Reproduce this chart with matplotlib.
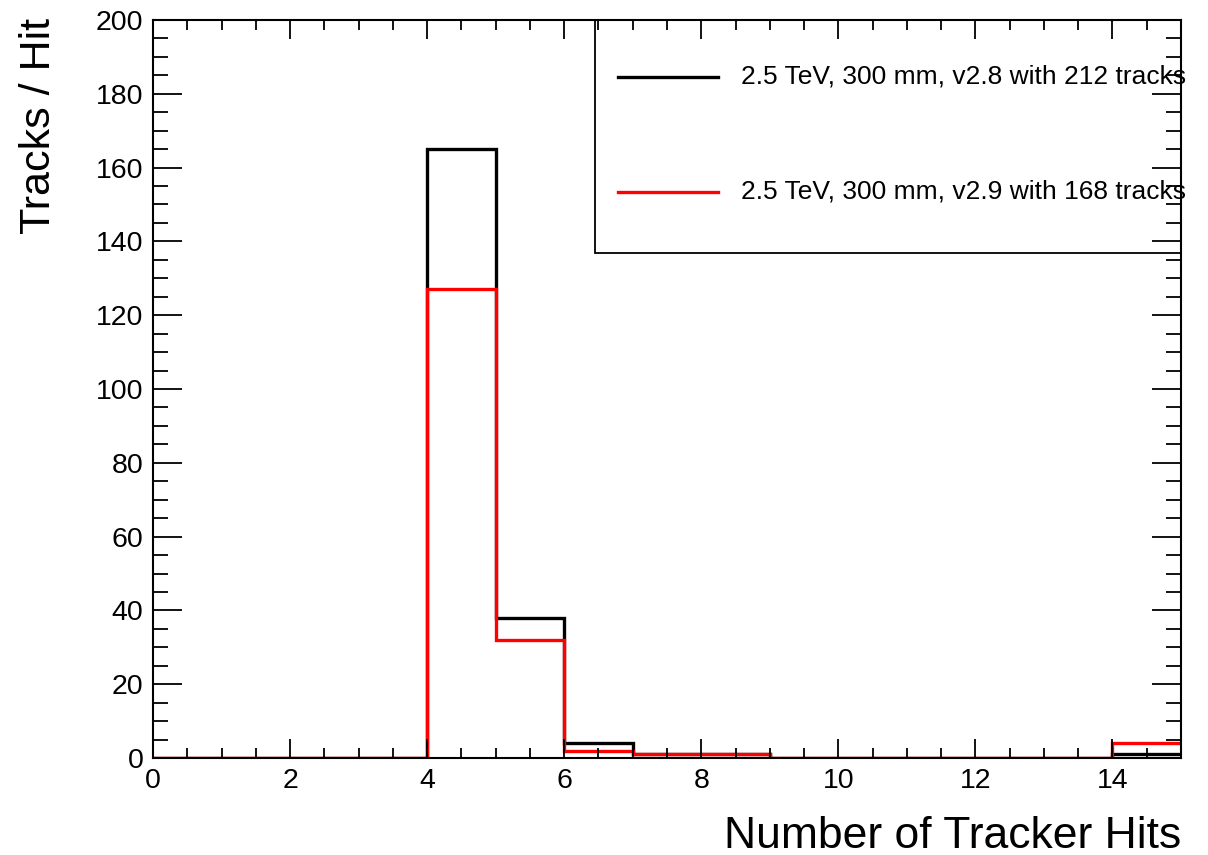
import numpy as np
import matplotlib
matplotlib.use("Agg")
import matplotlib.pyplot as plt
from matplotlib.patches import Rectangle
from matplotlib.lines import Line2D

plt.rcParams['font.family'] = ['Liberation Sans', 'DejaVu Sans']

# histogram data (bin edges 0..15, one bin per hit count)
bin_edges = np.arange(0, 16)
counts_v28 = [0, 0, 0, 0, 165, 38, 4, 1, 1, 0, 0, 0, 0, 0, 1]
counts_v29 = [0, 0, 0, 0, 127, 32, 2, 1, 1, 0, 0, 0, 0, 0, 4]
label_v28 = "2.5 TeV, 300 mm, v2.8 with 212 tracks"
label_v29 = "2.5 TeV, 300 mm, v2.9 with 168 tracks"

fig = plt.figure(figsize=(12.08, 8.55), dpi=100)
ax = fig.add_axes([153/1208, 97/855, 1028/1208, 738/855])

ax.stairs(counts_v28, bin_edges, color='black', lw=2.4, baseline=None)
ax.stairs(counts_v29, bin_edges, color='#ff0000', lw=2.4, baseline=None)

ax.set_xlim(0, 15)
ax.set_ylim(0, 200)
ax.set_xticks(np.arange(0, 16, 2))
ax.set_xticks(np.arange(0, 15.01, 0.5), minor=True)
ax.set_yticks(np.arange(0, 201, 20))
ax.set_yticks(np.arange(0, 201, 5), minor=True)

for s in ax.spines.values():
    s.set_linewidth(1.5)

ax.tick_params(axis='both', which='both', direction='in', top=True, right=True,
               labelsize=20.5, width=1.3)
ax.tick_params(axis='x', which='major', length=14, pad=7)
ax.tick_params(axis='x', which='minor', length=7)
ax.tick_params(axis='y', which='major', length=21, pad=7)
ax.tick_params(axis='y', which='minor', length=10.5)

ax.set_xlabel("Number of Tracker Hits", fontsize=32, loc='right')
ax.xaxis.set_label_coords(1.0, -0.078)
ax.set_ylabel("Tracks / Hit", fontsize=31, loc='top')
ax.yaxis.set_label_coords(-0.091, 1.003)

# legend box drawn by hand, ROOT style (text runs past the frame)
ax.add_patch(Rectangle((0.43, 0.684), 0.57, 0.316, transform=ax.transAxes,
                       fill=False, lw=1.3, ec='black', clip_on=False, zorder=5))
rows = [(0.923, 'black', label_v28), (0.767, '#ff0000', label_v29)]
for y, c, lab in rows:
    ax.add_line(Line2D([0.452, 0.55], [y, y], transform=ax.transAxes,
                       color=c, lw=2.4, clip_on=False))
    ax.text(0.572, y, lab, transform=ax.transAxes, fontsize=19,
            va='center', ha='left', clip_on=False)

fig.savefig("out.png", dpi=100)
